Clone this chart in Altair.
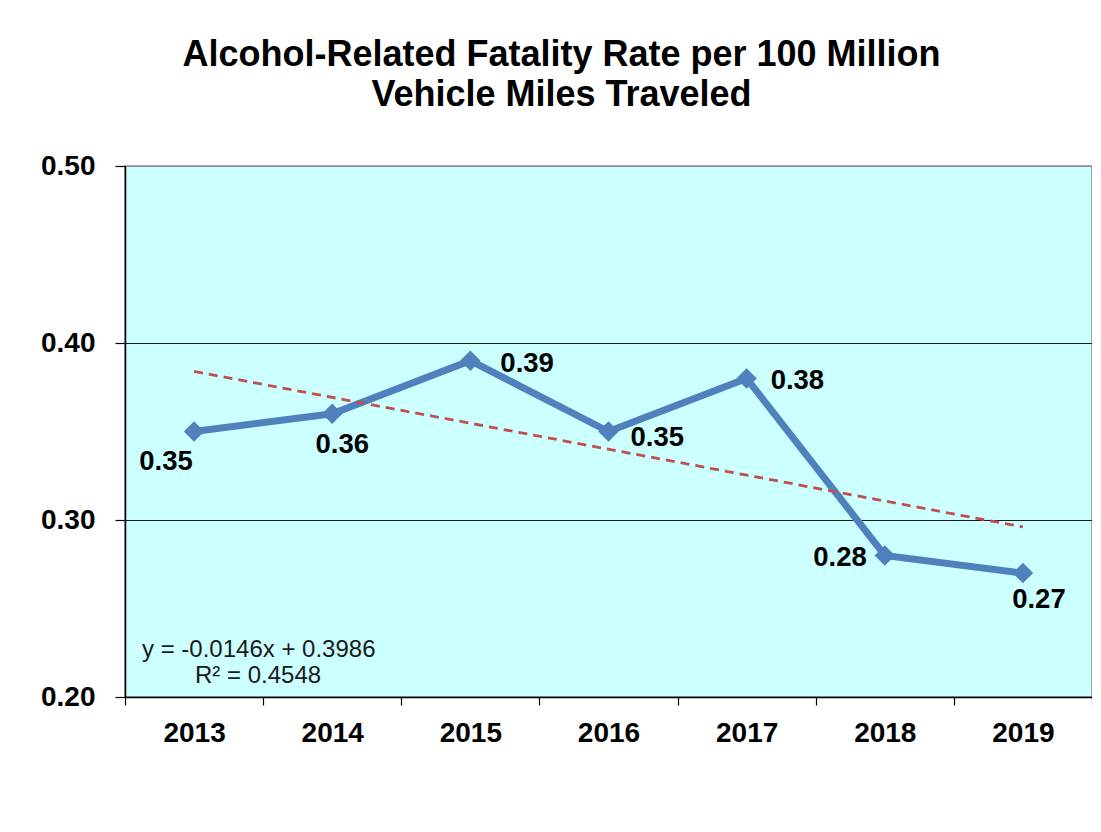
import altair as alt
import pandas as pd

# ---- data ----
years = [2013, 2014, 2015, 2016, 2017, 2018, 2019]
rates = [0.35, 0.36, 0.39, 0.35, 0.38, 0.28, 0.27]
rate_labels = ["0.35", "0.36", "0.39", "0.35", "0.38", "0.28", "0.27"]
y_ticks = [0.20, 0.30, 0.40, 0.50]
title_lines = ["Alcohol-Related Fatality Rate per 100 Million", "Vehicle Miles Traveled"]
equation_lines = ["y = -0.0146x  + 0.3986", "R\u00b2 = 0.4548"]

# tick marks sit between the year categories (band edges)
x_ticks = sorted([y - 0.5 for y in years] + years + [years[-1] + 0.5])

df = pd.DataFrame({"year": years, "rate": rates, "label": rate_labels})

FONT = "Liberation Sans"
BLUE = "#4F81BD"

x_enc = alt.X(
    "year:Q",
    scale=alt.Scale(domain=[years[0] - 0.5, years[-1] + 0.5], nice=False, zero=False),
    axis=alt.Axis(
        values=x_ticks,
        labelExpr="datum.value % 1 == 0 ? format(datum.value, 'd') : ''",
        tickOpacity={"condition": {"test": "datum.value % 1 == 0", "value": 0}, "value": 1},
        labelOverlap=False,
        labelFlush=False,
        labelBound=False,
    ),
    title=None,
)
y_enc = alt.Y(
    "rate:Q",
    scale=alt.Scale(domain=[0.2, 0.5], nice=False, zero=False),
    axis=alt.Axis(
        values=y_ticks,
        format=".2f",
        gridColor={"condition": {"test": "datum.value >= 0.45", "value": "#8c8c8c"}, "value": "#1a1a1a"},
        labelOverlap=False,
        labelFlush=False,
    ),
    title=None,
)

base = alt.Chart(df).encode(x=x_enc, y=y_enc)

line = base.mark_line(color=BLUE, strokeWidth=7, strokeJoin="miter")
points = base.mark_point(shape="diamond", filled=True, size=420, color=BLUE, opacity=1)

trend = (
    alt.Chart(df)
    .transform_regression("year", "rate", extent=[years[0], years[-1]])
    .mark_line(color="#C0504D", strokeWidth=2.8, strokeDash=[9, 6])
    .encode(x="year:Q", y="rate:Q")
)

# label placement per point (style only)
placement = {
    2013: ("center", -28, 30),
    2014: ("center", 10, 31),
    2015: ("left", 30, 3),
    2016: ("left", 22, 6),
    2017: ("left", 24, 3),
    2018: ("right", -18, 3),
    2019: ("center", 16, 27),
}
labels = []
for yr in years:
    al, dx, dy = placement[yr]
    labels.append(
        alt.Chart(df)
        .transform_filter(alt.datum.year == yr)
        .mark_text(font=FONT, fontSize=27.5, fontWeight="bold", color="black",
                   align=al, baseline="middle", dx=dx, dy=dy)
        .encode(x="year:Q", y="rate:Q", text="label:N")
    )

eq1 = alt.Chart(pd.DataFrame({"t": [equation_lines[0]]})).mark_text(
    font=FONT, fontSize=24, color="#1a1a1a", align="left", baseline="middle"
).encode(x=alt.value(17), y=alt.value(484), text="t:N")
eq2 = alt.Chart(pd.DataFrame({"t": [equation_lines[1]]})).mark_text(
    font=FONT, fontSize=24, color="#1a1a1a", align="left", baseline="middle"
).encode(x=alt.value(70), y=alt.value(510), text="t:N")

chart = (
    alt.layer(line, trend, points, *labels, eq1, eq2)
    .properties(
        width=967,
        height=531,
        autosize=alt.AutoSizeParams(type="none"),
        padding={"left": 117, "top": 158, "right": 0, "bottom": 120},
        background="white",
        title=alt.TitleParams(
            text=title_lines,
            font=FONT,
            fontSize=36,
            fontWeight="bold",
            color="black",
            anchor="middle",
            frame="group",
            dx=-47,
            offset=2,
            baseline="bottom",
            lineHeight=40,
        ),
    )
    .configure_axis(
        labelFont=FONT,
        labelFontWeight="bold",
        labelFontSize=28,
        labelColor="black",
        tickColor="black",
        domainColor="black",
        domainWidth=1.5,
        tickWidth=1.2,
    )
    .configure_axisY(tickSize=10, labelPadding=20, grid=True, gridWidth=1.2)
    .configure_axisX(tickSize=8, labelPadding=14, grid=False)
    .configure_view(fill="#CCFFFF", stroke="#8c8c8c", strokeWidth=1.5)
)

chart.save("out.html", embed_options={"renderer": "svg", "actions": False})
